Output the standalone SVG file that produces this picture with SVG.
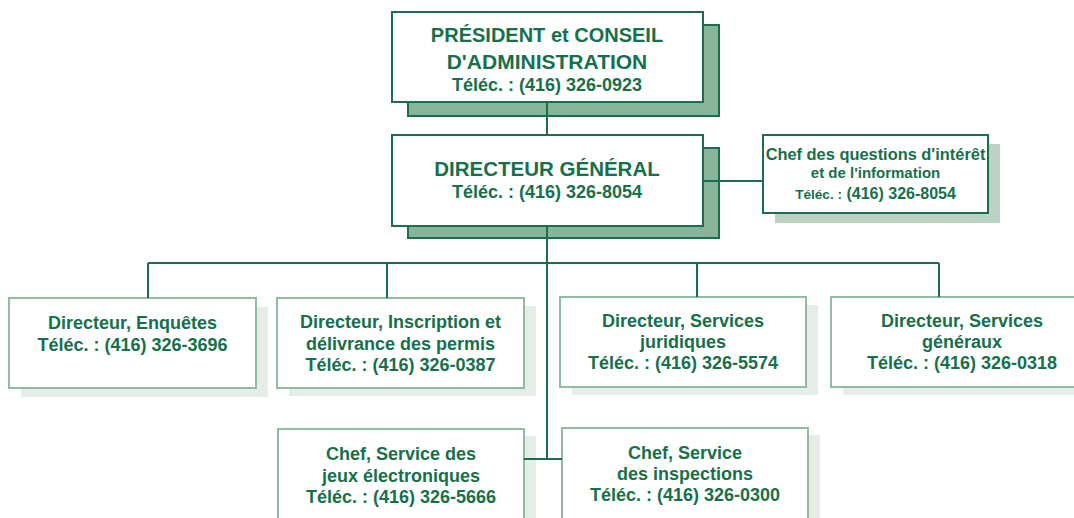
<svg xmlns="http://www.w3.org/2000/svg" width="1074" height="518" viewBox="0 0 1074 518">
<style>
text{font-family:"Liberation Sans",Arial,sans-serif;font-weight:bold;fill:#16704b;text-anchor:middle}
.t20{font-size:20px}
.t18{font-size:18px}
.main{fill:#fff;stroke:#1b6e4c;stroke-width:2}
.shdark{fill:#86b59c;stroke:#1b6e4c;stroke-width:2}
.shmid{fill:#bad3c3}
.sub{fill:#fff;stroke:#8fbca3;stroke-width:2}
.shlight{fill:#e6ede7}
.conn{fill:none;stroke:#1b6e4c;stroke-width:2}
</style>
<rect width="1074" height="518" fill="#fff"/>
<g id="president">
<rect class="shdark" x="408" y="25" width="311" height="91"/>
<rect class="main" x="392" y="12" width="311" height="90"/>
<text class="t20" x="547" y="42">PRÉSIDENT et CONSEIL</text>
<text x="547" y="69" style="font-size:21px">D'ADMINISTRATION</text>
<text class="t18" x="547" y="91">Téléc. : (416) 326-0923</text>
</g>
<g id="directeur-general">
<rect class="shdark" x="408" y="148" width="311" height="90"/>
<rect class="main" x="392" y="135" width="311" height="91"/>
<text x="547" y="176" style="font-size:20.5px">DIRECTEUR GÉNÉRAL</text>
<text class="t18" x="547" y="198">Téléc. : (416) 326-8054</text>
</g>
<g id="chef-interet">
<rect class="shmid" x="775" y="144" width="225" height="79"/>
<rect class="main" x="763" y="135" width="225" height="78"/>
<text x="875.5" y="160" style="font-size:16.4px">Chef des questions d'intérêt</text>
<text x="875.5" y="178" style="font-size:15px">et de l'information</text>
<text x="875.5" y="199" style="font-size:16px"><tspan style="font-size:13.6px">Téléc. :</tspan> (416) 326-8054</text>
</g>
<g id="dir-enquetes">
<rect class="shlight" x="21" y="307" width="247" height="90"/>
<rect class="sub" x="9" y="298" width="247" height="90"/>
<text class="t18" x="132.5" y="329">Directeur, Enquêtes</text>
<text class="t18" x="132.5" y="351">Téléc. : (416) 326-3696</text>
</g>
<g id="dir-inscription">
<rect class="shlight" x="289" y="306" width="247" height="90"/>
<rect class="sub" x="277" y="298" width="247" height="90"/>
<text class="t18" x="400.5" y="328">Directeur, Inscription et</text>
<text class="t18" x="400.5" y="349.5">délivrance des permis</text>
<text class="t18" x="400.5" y="371">Téléc. : (416) 326-0387</text>
</g>
<g id="dir-juridiques">
<rect class="shlight" x="572" y="305" width="246" height="90"/>
<rect class="sub" x="560" y="297" width="246" height="90"/>
<text class="t18" x="683" y="327">Directeur, Services</text>
<text class="t18" x="683" y="348">juridiques</text>
<text class="t18" x="683" y="369">Téléc. : (416) 326-5574</text>
</g>
<g id="dir-generaux">
<rect class="shlight" x="843" y="305" width="246" height="90"/>
<rect class="sub" x="831" y="297" width="246" height="90"/>
<text class="t18" x="962" y="327">Directeur, Services</text>
<text class="t18" x="962" y="348">généraux</text>
<text class="t18" x="962" y="369">Téléc. : (416) 326-0318</text>
</g>
<g id="chef-jeux">
<rect class="shlight" x="290" y="436" width="246" height="100"/>
<rect class="sub" x="278" y="429" width="246" height="100"/>
<text class="t18" x="401" y="460">Chef, Service des</text>
<text class="t18" x="401" y="482">jeux électroniques</text>
<text class="t18" x="401" y="503">Téléc. : (416) 326-5666</text>
</g>
<g id="chef-inspections">
<rect class="shlight" x="574" y="435" width="246" height="100"/>
<rect class="sub" x="562" y="428" width="246" height="100"/>
<text class="t18" x="685" y="459">Chef, Service</text>
<text class="t18" x="685" y="480">des inspections</text>
<text class="t18" x="685" y="501">Téléc. : (416) 326-0300</text>
</g>
<g id="connectors" class="conn">
<path class="conn" d="M547,102V135"/>
<path class="conn" d="M547,226V459"/>
<path class="conn" d="M703,181H763"/>
<path class="conn" d="M148,263H939"/>
<path class="conn" d="M148,263V298M387,263V298M697,263V297M939,263V297"/>
<path class="conn" d="M524,459H562"/>
</g>
</svg>
